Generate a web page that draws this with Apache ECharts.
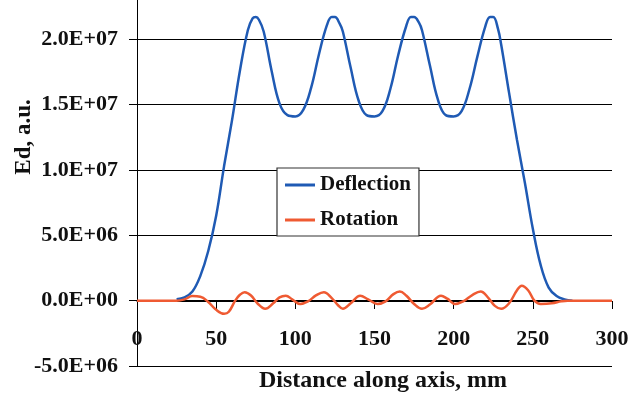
<!DOCTYPE html>
<html>
<head>
<meta charset="utf-8">
<script src="https://cdn.jsdelivr.net/npm/echarts@6/dist/echarts.min.js"></script>
<style>
  html, body { margin: 0; padding: 0; background: #fff; }
  #chart { width: 641px; height: 401px; }
</style>
</head>
<body>
<div id="chart"></div>
<script>
// values, Ed in units of 1E6
var deflectionX = [25, 30, 35, 40, 45, 50, 55, 60, 65, 70, 73, 75, 77, 80, 85, 90, 95, 100,
    105, 110, 115, 120, 123, 125, 128, 130, 135, 140, 145, 150, 155, 160, 165, 170, 173, 175,
    178, 180, 185, 190, 195, 200, 205, 210, 215, 220, 223, 225, 228, 230, 235, 240, 245, 250,
    255, 260, 265, 270, 275];
var deflectionY = [0.1, 0.25, 0.7, 1.9, 3.8, 6.5, 10.3, 13.8, 17.6, 20.7, 21.6, 21.7, 21.5, 20.6, 17.6, 15.1, 14.2, 14.1,
    14.6, 16.3, 18.9, 21.1, 21.7, 21.7, 21.2, 20.6, 17.8, 15.3, 14.2, 14.1, 14.5, 16.2, 18.8, 21.0, 21.7, 21.7,
    21.3, 20.7, 18.0, 15.4, 14.2, 14.1, 14.5, 16.2, 18.7, 21.0, 21.7, 21.7, 20.8, 19.6, 15.9, 12.3, 9.0, 5.5,
    2.7, 1.0, 0.35, 0.1, 0];

var rotationX = [0, 25, 30, 35, 40, 45, 50, 55, 58, 62, 65, 68, 72, 76, 81, 86, 90, 94, 98, 103,
    108, 113, 118, 123, 127, 130, 135, 141, 146, 152, 157, 162, 166, 170, 175, 180, 185, 192,
    196, 201, 206, 212, 217, 222, 226, 230, 235, 240, 243, 247, 251, 255, 262, 268, 272, 300];
var rotationY = [0, 0, 0.1, 0.35, 0.3, -0.1, -0.7, -1.0, -0.85, 0, 0.45, 0.65, 0.4, -0.2, -0.62, -0.2, 0.25, 0.38, 0.1, -0.25,
    -0.05, 0.4, 0.65, 0.2, -0.35, -0.62, -0.2, 0.38, 0.1, -0.25, -0.05, 0.5, 0.7, 0.4, -0.25, -0.62, -0.3, 0.38,
    0.15, -0.25, -0.05, 0.45, 0.7, 0.2, -0.4, -0.62, -0.2, 0.8, 1.15, 0.8, 0, -0.25, -0.2, -0.05, 0, 0];

var seriesNames = ['Deflection', 'Rotation'];
var seriesColors = ['#1f5ab4', '#ef5a32'];

var FONT = '"Liberation Serif", "DejaVu Serif", serif';

function toPairs(xs, ys) {
    var out = [];
    for (var i = 0; i < xs.length; i++) {
        out.push([xs[i], ys[i] * 1e6]);
    }
    return out;
}

// 2.0E+07 style labels like the spreadsheet
function sciLabel(v) {
    if (v === 0) return '0.0E+00';
    var sign = v < 0 ? '-' : '';
    var a = Math.abs(v);
    var e = Math.floor(Math.log10(a) + 1e-9);
    var m = (a / Math.pow(10, e)).toFixed(1);
    var es = (e < 0 ? '-' : '+') + (Math.abs(e) < 10 ? '0' : '') + Math.abs(e);
    return sign + m + 'E' + es;
}

var dom = document.getElementById('chart');
var myChart = echarts.init(dom);

var option = {
    animation: false,
    backgroundColor: '#fff',
    grid: {
        left: 137,
        right: 29,
        top: -26,
        bottom: 35,
        outerBoundsMode: 'none',
        containLabel: false
    },
    legend: {
        orient: 'vertical',
        left: 277,
        top: 168,
        data: seriesNames,
        icon: 'rect',
        itemWidth: 30,
        itemHeight: 3,
        itemGap: 13,
        padding: [6, 8, 5, 8],
        borderColor: '#333',
        borderWidth: 1.2,
        backgroundColor: '#fff',
        textStyle: {
            fontFamily: FONT,
            fontSize: 21,
            fontWeight: 'bold',
            color: '#111',
            lineHeight: 22
        }
    },
    xAxis: {
        type: 'value',
        min: 0,
        max: 300,
        interval: 50,
        position: 'bottom',
        // axis sits on the zero line, 65px above the grid bottom
        offset: -65,
        axisLine: { onZero: false, lineStyle: { color: '#000', width: 1 } },
        axisTick: { show: true, inside: false, length: 8, lineStyle: { color: '#000' } },
        axisLabel: {
            margin: 27,
            fontFamily: FONT,
            fontSize: 22,
            fontWeight: 'bold',
            color: '#111'
        },
        splitLine: { show: false }
    },
    yAxis: {
        type: 'value',
        min: -5e6,
        max: 2.5e7,
        interval: 5e6,
        axisLine: { show: true, lineStyle: { color: '#000', width: 1 } },
        axisTick: { show: true, inside: false, length: 8, lineStyle: { color: '#000' } },
        axisLabel: {
            margin: 19,
            fontFamily: FONT,
            fontSize: 22,
            fontWeight: 'bold',
            color: '#111',
            formatter: sciLabel
        },
        splitLine: { show: true, lineStyle: { color: '#000', width: 1 } }
    },
    graphic: [
        {
            type: 'text',
            left: 259,
            top: 369,
            style: {
                text: 'Distance along axis, mm',
                font: 'bold 24px ' + FONT,
                fill: '#111'
            }
        },
        {
            type: 'text',
            x: 24,
            y: 137,
            rotation: Math.PI / 2,
            style: {
                text: 'Ed, a.u.',
                font: 'bold 23px ' + FONT,
                fill: '#111',
                align: 'center',
                verticalAlign: 'middle'
            }
        }
    ],
    series: [
        {
            name: seriesNames[0],
            type: 'line',
            data: toPairs(deflectionX, deflectionY),
            smooth: 0.4,
            showSymbol: false,
            lineStyle: { color: seriesColors[0], width: 2.5 },
            itemStyle: { color: seriesColors[0] }
        },
        {
            name: seriesNames[1],
            type: 'line',
            data: toPairs(rotationX, rotationY),
            smooth: 0.4,
            showSymbol: false,
            lineStyle: { color: seriesColors[1], width: 2.5 },
            itemStyle: { color: seriesColors[1] }
        }
    ]
};

if (option && typeof option === "object") {
    myChart.setOption(option, true);
}
</script>
</body>
</html>
